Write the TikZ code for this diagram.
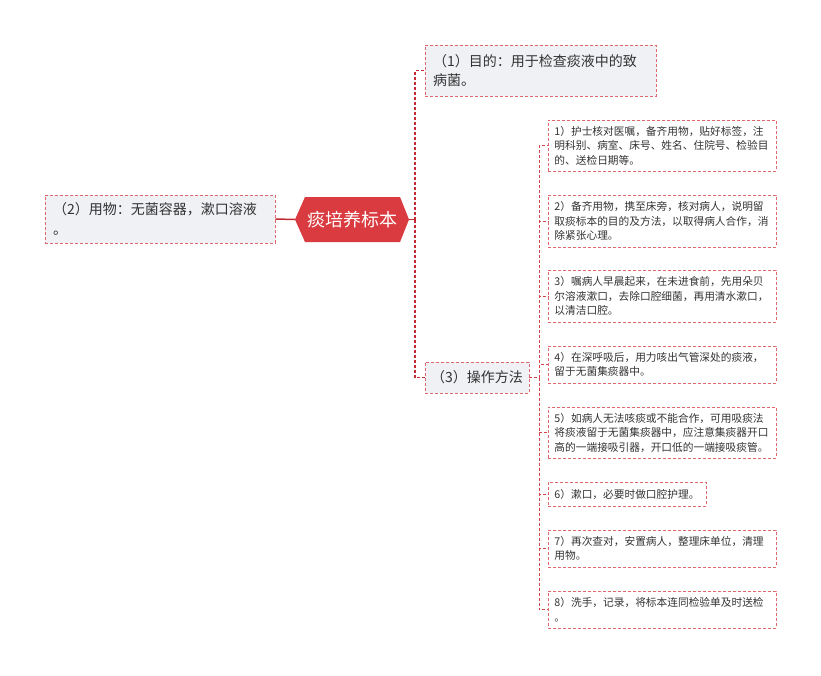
\documentclass[tikz,border=0pt]{standalone}
\usepackage{fontspec}
\setmainfont{Noto Sans CJK SC}
\definecolor{lnred}{HTML}{C42A33}
\definecolor{lnred2}{HTML}{D4424A}
\definecolor{boxred}{HTML}{E0666D}
\definecolor{rootred}{HTML}{DA3B40}
\definecolor{boxgrey}{HTML}{EFF1F4}
\definecolor{txt}{HTML}{333333}
\begin{document}
\begin{tikzpicture}[x=1pt,y=-1pt,
  solidln/.style={draw=lnred, line width=1.5pt},
  dashln/.style={draw=lnred, line width=1.5pt, dash pattern=on 3pt off 2pt},
  dashln2/.style={draw=lnred2, line width=1pt, dash pattern=on 3pt off 2pt},
  topbox/.style={draw=boxred, line width=0.9pt, dash pattern=on 3pt off 2pt, fill=boxgrey,
    text=txt, font=\fontsize{14}{19.5}\selectfont, align=left, inner xsep=8pt, inner ysep=3pt},
  childbox/.style={draw=boxred, line width=0.9pt, dash pattern=on 3pt off 2pt, fill=white,
    text=txt, font=\fontsize{10.7}{14.5}\selectfont, align=left, inner xsep=6pt, inner ysep=2pt,
    anchor=west, text width=216pt},
  rootnode/.style={text=white, font=\fontsize{18}{22}\selectfont, minimum width=114pt, minimum height=45pt, inner sep=0pt}
]
\useasboundingbox (0,0) rectangle (821,675);
\fill[white] (0,0) rectangle (821,675);

% root hexagon
\fill[rootred] (295,219.5) -- (305,197) -- (400,197) -- (409,219.5) -- (400,242) -- (305,242) -- cycle;
\node[rootnode] (root) at (352,219.5) {痰培养标本};

% first level
\node[topbox, text width=214pt, minimum height=48pt] (left) at (160,219) {（2）用物：无菌容器，漱口溶液\\。};
\node[topbox, text width=215pt, minimum height=51pt] (n1) at (540.5,70.5) {（1）目的：用于检查痰液中的致\\病菌。};
\node[topbox, minimum width=104pt, minimum height=31pt, align=center, inner xsep=4pt] (n3) at (477,377.5) {（3）操作方法};

\coordinate (s1) at (415,219.5);
\draw[solidln] (left.east) -- (root.west);
\draw[solidln] (root.east) -- (s1);
\draw[dashln] (s1) |- (n1.west);
\draw[dashln] (s1) |- (n3.west);

% children
\node[childbox, minimum height=51pt] (c1) at (548,145.5) {1）护士核对医嘱，备齐用物，贴好标签，注\\明科别、病室、床号、姓名、住院号、检验目\\的、送检日期等。};
\node[childbox, minimum height=52pt] (c2) at (548,221) {2）备齐用物，携至床旁，核对病人，说明留\\取痰标本的目的及方法，以取得病人合作，消\\除紧张心理。};
\node[childbox, minimum height=52pt] (c3) at (548,296) {3）嘱病人早晨起来，在未进食前，先用朵贝\\尔溶液漱口，去除口腔细菌，再用清水漱口，\\以清洁口腔。};
\node[childbox, minimum height=37pt] (c4) at (548,364.5) {4）在深呼吸后，用力咳出气管深处的痰液，\\留于无菌集痰器中。};
\node[childbox, minimum height=51pt] (c5) at (548,432.5) {5）如病人无法咳痰或不能合作，可用吸痰法\\将痰液留于无菌集痰器中，应注意集痰器开口\\高的一端接吸引器，开口低的一端接吸痰管。};
\node[childbox, minimum height=24pt, text width=146pt] (c6) at (548,494) {6）漱口，必要时做口腔护理。};
\node[childbox, minimum height=37pt] (c7) at (548,548.5) {7）再次查对，安置病人，整理床单位，清理\\用物。};
\node[childbox, minimum height=37pt] (c8) at (548,609.5) {8）洗手，记录，将标本连同检验单及时送检\\。};

\coordinate (s2) at (539,377.5);
\draw[dashln2] (n3.east) -- (s2);
\foreach \c in {c1,c2,c3,c4,c5,c6,c7,c8}{
  \draw[dashln2] (s2) |- (\c.west);
}
\end{tikzpicture}
\end{document}
